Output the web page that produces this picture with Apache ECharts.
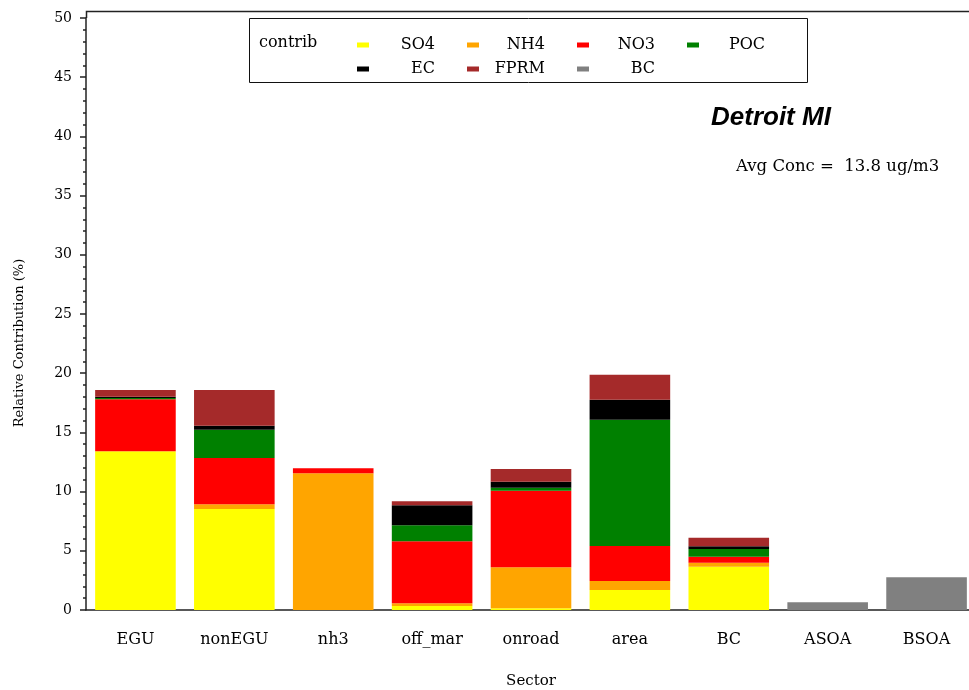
<!DOCTYPE html>
<html>
<head>
<meta charset="utf-8">
<title>Detroit MI</title>
<script src="https://cdn.jsdelivr.net/npm/echarts@6/dist/echarts.min.js"></script>
<style>
  html, body { margin: 0; padding: 0; background: #fff; }
  #chart { width: 969px; height: 690px; }
</style>
</head>
<body>
<div id="chart"></div>
<script>
// sectors on the x axis
var sectors = ['EGU', 'nonEGU', 'nh3', 'off_mar', 'onroad', 'area', 'BC', 'ASOA', 'BSOA']
// relative contribution (%) of each species, per sector
var so4  = [13.4, 8.53, 0,     0.34, 0.14, 1.69,  3.66, 0,    0]
var nh4  = [0,    0.40, 11.55, 0.23, 3.47, 0.76,  0.33, 0,    0]
var no3  = [4.4,  3.91, 0.42,  5.23, 6.47, 2.96,  0.51, 0,    0]
var poc  = [0.1,  2.39, 0,     1.35, 0.25, 10.66, 0.65, 0,    0]
var ec   = [0.12, 0.34, 0,     1.69, 0.51, 1.69,  0.23, 0,    0]
var fprm = [0.56, 3.01, 0,     0.34, 1.07, 2.11,  0.73, 0,    0]
var bc   = [0,    0,    0,     0,    0,    0,     0,    0.65, 2.76]

var yTicks = [0, 5, 10, 15, 20, 25, 30, 35, 40, 45, 50]
var siteName = 'Detroit MI'
var avgConc = 13.8

var FONT = 'DejaVu Serif'

function mkSeries(name, data, color) {
  return {
    name: name,
    type: 'bar',
    stack: 'total',
    barWidth: '81.5%',
    data: data,
    itemStyle: { color: color },
    emphasis: { disabled: true }
  }
}

var legendText = {
  fontFamily: FONT,
  fontSize: 16,
  color: '#000',
  lineHeight: 20,
  rich: { r: { width: 61, align: 'right', fontFamily: FONT, fontSize: 16, color: '#000' } }
}
function legendBox(names, top) {
  return {
    data: names,
    left: 357,
    top: top,
    padding: 0,
    orient: 'horizontal',
    icon: 'rect',
    itemWidth: 12,
    itemHeight: 5,
    itemGap: 32,
    selectedMode: false,
    formatter: function (n) { return '{r|' + n + '}' },
    textStyle: legendText
  }
}

var chart = echarts.init(document.getElementById('chart'))
chart.setOption({
  animation: false,
  textStyle: { fontFamily: FONT },
  title: [
    {
      text: siteName,
      left: 711,
      top: 105,
      padding: 0,
      textStyle: { fontFamily: 'Liberation Sans', fontStyle: 'italic', fontWeight: 'bold', fontSize: 26, color: '#000' }
    },
    {
      text: 'Avg Conc =  ' + avgConc + ' ug/m3',
      left: 736,
      top: 158,
      padding: 0,
      textStyle: { fontFamily: FONT, fontWeight: 'normal', fontSize: 16.5, color: '#000' }
    }
  ],
  legend: [
    legendBox(['SO4', 'NH4', 'NO3', 'POC'], 35),
    legendBox(['EC', 'FPRM', 'BC'], 59)
  ],
  // keep the plot box fixed, names may sit outside it (last category runs past the edge)
  grid: { left: 86, right: -7, top: 18, bottom: 80, containLabel: false, outerBoundsMode: 'none' },
  xAxis: {
    type: 'category',
    data: sectors,
    name: 'Sector',
    nameLocation: 'middle',
    nameGap: 64,
    nameTextStyle: { fontFamily: FONT, fontSize: 15, color: '#000', padding: [0, 0, 0, 0] },
    axisLine: { lineStyle: { color: '#222', width: 1.5 } },
    axisTick: { show: false },
    axisLabel: { margin: 22, fontFamily: FONT, fontSize: 16, color: '#000' }
  },
  yAxis: {
    type: 'value',
    min: yTicks[0],
    max: yTicks[yTicks.length - 1],
    interval: yTicks[1] - yTicks[0],
    name: 'Relative Contribution (%)',
    nameLocation: 'middle',
    nameGap: 60,
    nameTextStyle: { fontFamily: FONT, fontSize: 13, color: '#000', padding: [0, 58, 0, 0] },
    axisLine: { show: true, lineStyle: { color: '#222', width: 1.5 } },
    axisTick: { show: true, length: 6, lineStyle: { color: '#222', width: 1.5 } },
    minorTick: { show: true, splitNumber: 5, length: 3, lineStyle: { color: '#222', width: 1.5 } },
    splitLine: { show: false },
    axisLabel: { margin: 14, fontFamily: FONT, fontSize: 14, color: '#000' }
  },
  graphic: [
    // frame top
    {
      type: 'polyline',
      shape: { points: [[86.5, 18], [86.5, 11.5], [969, 11.5]] },
      style: { stroke: '#222', lineWidth: 1.5, fill: null }
    },
    // legend border + header
    {
      type: 'rect',
      shape: { x: 249.5, y: 18.5, width: 558, height: 64 },
      style: { stroke: '#111', lineWidth: 1, fill: '#fff' },
      z: -1
    },
    {
      type: 'text',
      left: 259,
      top: 35,
      style: { text: 'contrib', font: '16px "DejaVu Serif"', fill: '#000' }
    }
  ],
  series: [
    mkSeries('SO4', so4, '#ffff00'),
    mkSeries('NH4', nh4, '#ffa500'),
    mkSeries('NO3', no3, '#ff0000'),
    mkSeries('POC', poc, '#008000'),
    mkSeries('EC', ec, '#000000'),
    mkSeries('FPRM', fprm, '#a52a2a'),
    mkSeries('BC', bc, '#808080')
  ]
})
</script>
</body>
</html>
